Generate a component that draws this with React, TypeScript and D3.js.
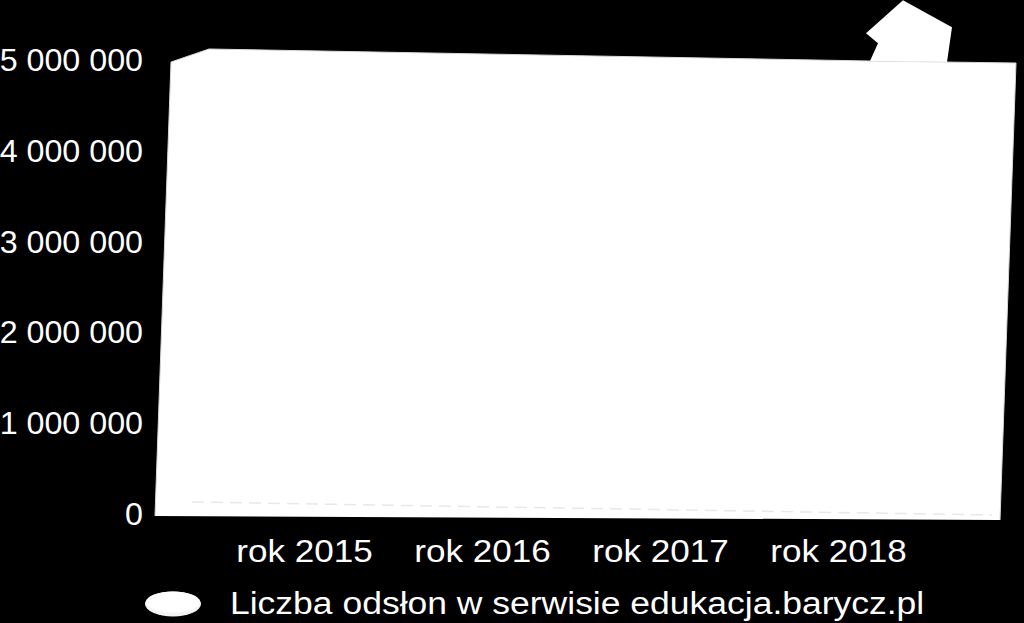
import React from "react";
import * as d3 from "d3";

const categories = ["rok 2015", "rok 2016", "rok 2017", "rok 2018"];
const pageViews = [1800000, 2600000, 3900000, 5680000];
const yTicks = [0, 1000000, 2000000, 3000000, 4000000, 5000000];
const seriesName = "Liczba odsłon w serwisie edukacja.barycz.pl";

const W = 1024;
const H = 623;
const FONT = "'Liberation Sans', Arial, sans-serif";

const fmt = (v: number) =>
  d3.format(",")(v).replace(/,/g, " ");

export default function App() {
  const yMax = 5000000;
  const y = d3.scaleLinear().domain([0, yMax]).range([516, 62]);
  const x = d3.scaleBand<string>().domain(categories).range([215.5, 927.5]);
  // left wall edge: x shifts with depth (perspective)
  const leftX = d3.scaleLinear().domain([0, yMax]).range([155, 171]);
  const rightX = d3.scaleLinear().domain([0, yMax]).range([1000, 1016]);

  const wall: [number, number][] = [
    [leftX(0), y(0)],
    [leftX(yMax), y(yMax)],
    [209, y(yMax) - 13],
    [rightX(yMax) - 146, y(yMax) - 1],
    [rightX(yMax), y(yMax) + 1],
    [rightX(0), y(0) + 4],
  ];

  // bars (white on white, only the overflow above the wall is visible)
  const bars = categories.map((c, i) => {
    const cx = (x(c) ?? 0) + x.bandwidth() / 2;
    const v = pageViews[i];
    const top = y(v);
    return { c, cx, v, top };
  });

  const last = bars[bars.length - 1];
  const wallTop = y(yMax);
  const overflow: [number, number][] =
    last.v > yMax
      ? [
          [last.cx + 31.5, wallTop - 1],
          [last.cx + 39.5, last.top + 43],
          [last.cx + 27.5, last.top + 33],
          [last.cx + 64.5, last.top],
          [last.cx + 113.5, last.top + 27],
          [last.cx + 108.5, wallTop],
        ]
      : [];

  const line = d3.line();

  return (
    <div style={{ position: "fixed", left: 0, top: 0, width: W, height: H, background: "#000" }}>
      <svg width={W} height={H} style={{ display: "block", background: "#000" }}>
        <path d={line(wall) ?? ""} fill="#ffffff" stroke="#d8d8d8" strokeWidth={1} />
        {bars.map((b) => (
          <g key={b.c}>
            <rect
              x={b.cx - 40}
              y={Math.max(b.top, wallTop)}
              width={80}
              height={y(0) - Math.max(b.top, wallTop) - 6}
              fill="#ffffff"
            />
          </g>
        ))}
        {overflow.length > 0 && (
          <path d={(line(overflow) ?? "") + "Z"} fill="#ffffff" />
        )}
        <line
          x1={leftX(0) + 37}
          y1={y(0) - 14}
          x2={rightX(0) - 8}
          y2={y(0) - 1}
          stroke="#e8e8e8"
          strokeWidth={1.5}
          strokeDasharray="12 7"
        />
        {yTicks.map((t) => (
          <text
            key={t}
            transform={`translate(143,${y(t) + 9}) scale(1.04,1)`}
            textAnchor="end"
            fill="#ffffff"
            fontFamily={FONT}
            fontSize={31}
          >
            {fmt(t)}
          </text>
        ))}
        {categories.map((c) => (
          <text
            key={c}
            transform={`translate(${(x(c) ?? 0) + x.bandwidth() / 2},562) scale(1.15,1)`}
            textAnchor="middle"
            fill="#ffffff"
            fontFamily={FONT}
            fontSize={30.5}
          >
            {c}
          </text>
        ))}
        <g>
          <ellipse cx={173} cy={604} rx={28} ry={12.5} fill="#f4f4f4" />
          <ellipse cx={173} cy={602} rx={27} ry={10.5} fill="#ffffff" />
          <text
            transform="translate(230,614) scale(1.145,1)"
            fill="#ffffff"
            fontFamily={FONT}
            fontSize={31}
          >
            {seriesName}
          </text>
        </g>
      </svg>
    </div>
  );
}
